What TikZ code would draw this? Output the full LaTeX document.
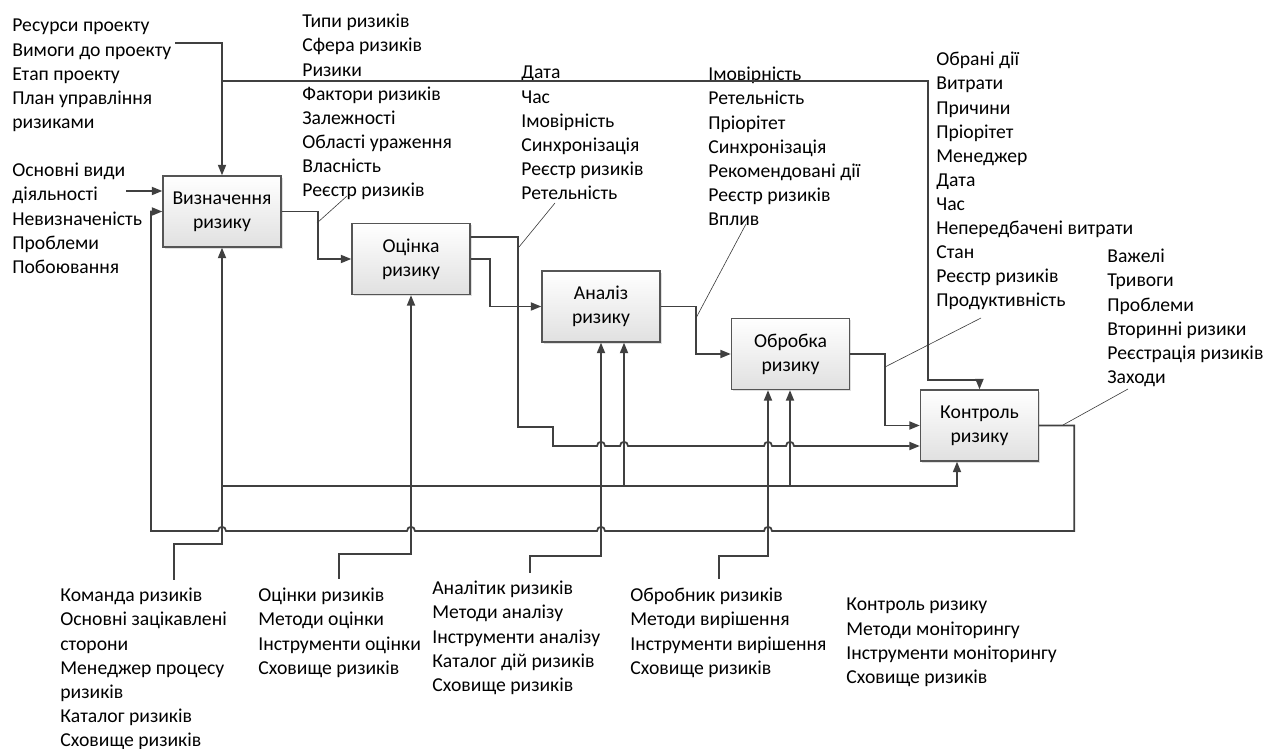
\documentclass[tikz,border=0pt]{standalone}
\usepackage{fontspec}
\setmainfont{Carlito}
\usetikzlibrary{arrows.meta,shadows}
\definecolor{lineGrey}{RGB}{64,64,64}
\definecolor{boxEdge}{RGB}{85,85,85}
\definecolor{tagGrey}{RGB}{60,60,60}

% hop over a vertical wire (rightward / leftward run)
\newcommand{\hopR}[2]{-- ({#1-4},#2) .. controls ({#1-4},{#2-5.5}) and ({#1+4},{#2-5.5}) .. ({#1+4},#2)}
\newcommand{\hopL}[2]{-- ({#1+4},#2) .. controls ({#1+4},{#2-5.5}) and ({#1-4},{#2-5.5}) .. ({#1-4},#2)}

\tikzset{
  proc/.style={draw=boxEdge, line width=0.8pt, top color=white, bottom color=black!12,
    minimum width=2.36cm, minimum height=1.42cm, align=center, inner sep=2pt,
    drop shadow={shadow xshift=1pt, shadow yshift=-1pt, opacity=0.25}},
  lbl/.style={anchor=north west, align=left, inner sep=0pt},
  flow/.style={draw=lineGrey, line width=1pt, -{Triangle[length=6pt,width=4.6pt]}},
  tag/.style={draw=tagGrey, line width=0.35pt},
}

\begin{document}
\begin{tikzpicture}[x=0.02cm, y=-0.02cm, font=\fontsize{11.2}{13.7}\selectfont]
\useasboundingbox (0,0) rectangle (1268,749);

% processes
\node[proc] (idn) at (222,211.5) {Визначення\\ризику};
\node[proc] (ocn) at (411,259) {Оцінка\\ризику};
\node[proc] (anl) at (601,306.5) {Аналіз\\ризику};
\node[proc] (obr) at (790.5,354) {Обробка\\ризику};
\node[proc] (ktr) at (979.5,425.5) {Контроль\\ризику};

% inputs and outputs
\node[lbl] (inRes) at (12,19) {Ресурси проекту\\Вимоги до проекту\\Етап проекту\\План управління\\ризиками};
\node[lbl] (inAct) at (12,163) {Основні види\\діяльності\\Невизначеність\\Проблеми\\Побоювання};
\node[lbl] (outIdn) at (302,14) {Типи ризиків\\Сфера ризиків\\Ризики\\Фактори ризиків\\Залежності\\Області ураження\\Власність\\Реєстр ризиків};
\node[lbl] (outOcn) at (521,66) {Дата\\Час\\Імовірність\\Синхронізація\\Реєстр ризиків\\Ретельність};
\node[lbl] (outAnl) at (708,67) {Імовірність\\Ретельність\\Пріорітет\\Синхронізація\\Рекомендовані дії\\Реєстр ризиків\\Вплив};
\node[lbl] (outObr) at (936,52) {Обрані дії\\Витрати\\Причини\\Пріорітет\\Менеджер\\Дата\\Час\\Непередбачені витрати\\Стан\\Реєстр ризиків\\Продуктивність};
\node[lbl] (outKtr) at (1107,249) {Важелі\\Тривоги\\Проблеми\\Вторинні ризики\\Реєстрація ризиків\\Заходи};

% mechanisms
\node[lbl] (mIdn) at (60,588) {Команда ризиків\\Основні зацікавлені\\сторони\\Менеджер процесу\\ризиків\\Каталог ризиків\\Сховище ризиків};
\node[lbl] (mOcn) at (258,588) {Оцінки ризиків\\Методи оцінки\\Інструменти оцінки\\Сховище ризиків};
\node[lbl] (mAnl) at (432,581) {Аналітик ризиків\\Методи аналізу\\Інструменти аналізу\\Каталог дій ризиків\\Сховище ризиків};
\node[lbl] (mObr) at (630,588) {Обробник ризиків\\Методи вирішення\\Інструменти вирішення\\Сховище ризиків};
\node[lbl] (mKtr) at (846,598) {Контроль ризику\\Методи моніторингу\\Інструменти моніторингу\\Сховище ризиків};

\coordinate (req) at (175,43);
\coordinate (act) at (126,191);
\coordinate (m1) at (174,580);
\coordinate (m2) at (339,579);
\coordinate (m3) at (530,573);
\coordinate (m4) at (719,579);

% controls
\draw[flow] (req) -| (idn.north);
\draw[flow] (idn.north |- 0,81) -- (928,81) -- (928,380) -| (ktr.north);
\draw[flow] (act) -- (idn.west |- act);

% main chain
\draw[flow] (idn.east) -- ++(36,0) |- (ocn.west);
\draw[flow] (ocn.east) -- ++(19,0) |- (anl.west);
\draw[flow] (anl.east) -- ++(35,0) |- (obr.west);
\draw[flow] (obr.east) -- ++(35,0) |- (ktr.west);
\draw[flow] (ocn.east |- 0,237) -- (518,237) -- (518,427) -- (553,427) -- (553,446)
  \hopR{601}{446} \hopR{624}{446} \hopR{768}{446} \hopR{790}{446} -- (ktr.west |- 0,446);

% feedback
\draw[flow] (ktr.east) -- ++(35,0) -- ++(0,105.5)
  \hopL{768}{531} \hopL{601}{531} \hopL{411}{531} \hopL{222}{531} -- (151,531) |- (idn.west);

% mechanism wires
\draw[flow] (m1) |- (idn.south |- 0,544) -- (idn.south);
\draw[flow] (m2) |- (ocn.south |- 0,554) -- (ocn.south);
\draw[flow] (m3) |- (anl.south |- 0,556) -- (anl.south);
\draw[flow] (m4) |- (768,556) -- (obr.south -| 768,0);
\draw[flow] (idn.south |- 0,486) -- (957,486) -- (ktr.south -| 957,0);
\draw[flow] (624,486) -- (anl.south -| 624,0);
\draw[flow] (790,486) -- (obr.south -| 790,0);

% leaders
\draw[tag] (317,223) -- (347,196);
\draw[tag] (519,247) -- (555,203);
\draw[tag] (696,318) -- (746,224);
\draw[tag] (885,367) -- (981,318);
\draw[tag] (1063,425) -- (1128,389);
\end{tikzpicture}
\end{document}
